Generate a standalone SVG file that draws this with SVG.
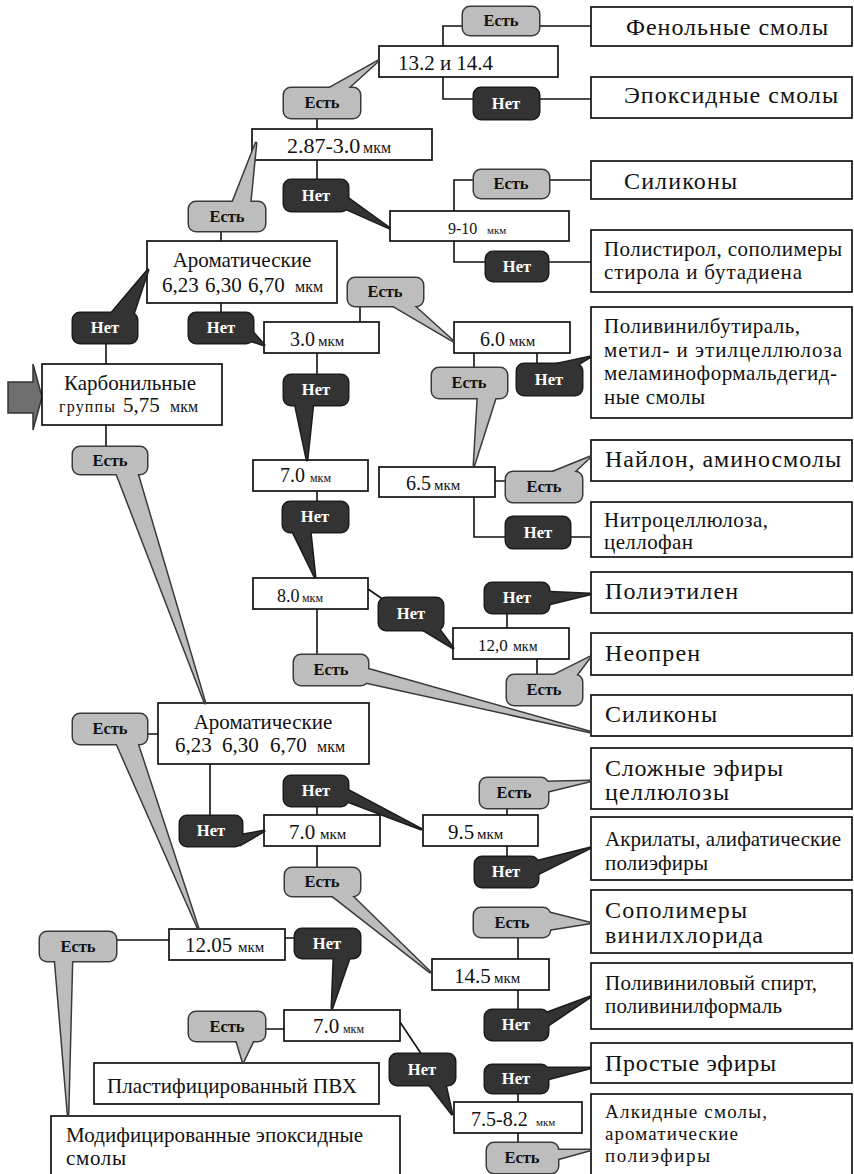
<svg xmlns="http://www.w3.org/2000/svg" width="854" height="1174" viewBox="0 0 854 1174" font-family="'Liberation Serif', 'DejaVu Serif', serif">
<style>
.box{fill:#fff;stroke:#111;stroke-width:1.7}
.ln{fill:none;stroke:#111;stroke-width:1.6}
.o{fill:none;stroke:#3a3a3a;stroke-width:3;stroke-linejoin:round}
.no .o{stroke:#1c1c1c}
.yes .f{fill:#bdbdbd}
.no .f{fill:#333}
text{font-family:'Liberation Serif','DejaVu Serif',serif;fill:#111}
.yes text,.no text{font-weight:bold;font-size:16.5px;text-anchor:middle}
.no text{fill:#fff}
.big{font-size:24px}
.mid{font-size:21px}
.sm{font-size:19px}
.c{text-anchor:middle}
.n22{font-size:22px}.n21{font-size:21px}.n20{font-size:20px}.n18{font-size:18px}.n17{font-size:17px}.n16{font-size:16px}
.u16{font-size:16px}.u15{font-size:15px}.u14{font-size:14px}.u12{font-size:12px}.u11{font-size:11px}
.start{fill:#6e6e6e;stroke:#333;stroke-width:1.5}
</style>
<defs>
<!-- callout outlines: rounded body plus pointer wedge -->
<g id="s-y1"><rect x="463" y="7" width="76" height="28" rx="7"/></g>
<g id="s-n1"><rect x="474" y="88" width="65" height="31" rx="7"/></g>
<g id="s-y2"><rect x="284" y="88" width="76" height="30" rx="7"/><polygon points="326,90 346,90 378,61"/></g>
<g id="s-y3"><rect x="189" y="202" width="76" height="29" rx="7"/><polygon points="232,204 250,204 256,143"/></g>
<g id="s-n2"><rect x="284" y="180" width="64" height="31" rx="7"/><polygon points="342,194 344,208 389,228"/></g>
<g id="s-y4"><rect x="474" y="170" width="75" height="28" rx="7"/></g>
<g id="s-n3"><rect x="486" y="252" width="62" height="29" rx="7"/></g>
<g id="s-y5"><rect x="348" y="278" width="75" height="28" rx="7"/><polygon points="390,304 412,304 453,341"/></g>
<g id="s-n4"><rect x="73" y="313" width="64" height="30" rx="7"/><polygon points="110,315 133,315 148,270"/></g>
<g id="s-n5"><rect x="189" y="313" width="64" height="30" rx="7"/><polygon points="249,328 249,340 264,345"/></g>
<g id="s-n6"><rect x="284" y="375" width="64" height="30" rx="7"/><polygon points="295,403 313,403 307,460"/></g>
<g id="s-y6"><rect x="432" y="368" width="75" height="30" rx="7"/><polygon points="478,396 496,396 474,465"/></g>
<g id="s-n7"><rect x="517" y="364" width="65" height="31" rx="7"/><polygon points="548,366 575,366 590,357"/></g>
<g id="s-y8"><rect x="73" y="447" width="74" height="27" rx="7"/><polygon points="116,472 137,472 205,703"/></g>
<g id="s-y7"><rect x="506" y="472" width="76" height="30" rx="7"/><polygon points="548,474 572,474 590,457"/></g>
<g id="s-n8"><rect x="506" y="517" width="64" height="31" rx="7"/></g>
<g id="s-n9"><rect x="283" y="502" width="65" height="30" rx="7"/><polygon points="292,530 310,530 315,577"/></g>
<g id="s-n10"><rect x="379" y="598" width="64" height="32" rx="7"/><polygon points="420,628 438,628 453,648"/></g>
<g id="s-n11"><rect x="485" y="583" width="64" height="30" rx="7"/><polygon points="545,592 545,605 590,594"/></g>
<g id="s-y9"><rect x="294" y="655" width="74" height="30" rx="7"/><polygon points="364,668 364,682 590,732"/></g>
<g id="s-y10"><rect x="507" y="675" width="75" height="30" rx="7"/><polygon points="550,677 575,677 590,657"/></g>
<g id="s-y11"><rect x="73" y="714" width="74" height="30" rx="7"/><polygon points="116,742 137,742 198,928"/></g>
<g id="s-n13"><rect x="284" y="776" width="64" height="30" rx="7"/><polygon points="344,788 344,800 421,829"/></g>
<g id="s-y12"><rect x="480" y="778" width="68" height="30" rx="7"/><polygon points="545,782 545,792 590,781"/></g>
<g id="s-n12"><rect x="180" y="816" width="62" height="30" rx="7"/><polygon points="236,836 240,845 264,831"/></g>
<g id="s-n14"><rect x="475" y="857" width="63" height="30" rx="7"/><polygon points="534,862 534,876 590,848"/></g>
<g id="s-y13"><rect x="285" y="868" width="75" height="28" rx="7"/><polygon points="330,894 350,894 430,972"/></g>
<g id="s-y14"><rect x="474" y="908" width="76" height="29" rx="7"/><polygon points="546,912 546,930 590,923"/></g>
<g id="s-y15"><rect x="40" y="932" width="76" height="29" rx="7"/><polygon points="55,959 72,959 68,1114"/></g>
<g id="s-n15"><rect x="295" y="929" width="65" height="29" rx="7"/><polygon points="334,956 350,956 332,1008"/></g>
<g id="s-n16"><rect x="485" y="1010" width="63" height="30" rx="7"/><polygon points="544,1014 544,1028 590,997"/></g>
<g id="s-y16"><rect x="189" y="1012" width="76" height="29" rx="7"/><polygon points="236,1039 254,1039 243,1062"/></g>
<g id="s-n17"><rect x="390" y="1054" width="65" height="31" rx="7"/><polygon points="428,1083 445,1083 452,1114"/></g>
<g id="s-n18"><rect x="485" y="1065" width="63" height="28" rx="7"/><polygon points="544,1068 544,1080 590,1068"/></g>
<g id="s-y17"><rect x="487" y="1143" width="71" height="30" rx="7"/><polygon points="554,1150 554,1160 590,1150"/></g>
</defs>

<g id="connectors">
<path class="ln" d="M443,46 V26 H463 M539,26 H591 M443,77 V99 H474 M539,99 H591"/>
<path class="ln" d="M317,118 V129 M317,160 V180 M221,231 V241"/>
<path class="ln" d="M454,211 V180 H474 M549,180 H591 M454,241 V262 H486 M548,262 H591"/>
<path class="ln" d="M221,303 V313 M106,343 V364 M106,425 V447 M360,306 V322 M317,353 V375"/>
<path class="ln" d="M474,353 V368 M537,353 V364 M317,491 V502 M495,481 H506 M474,497 V537 H506 M570,537 H591"/>
<path class="ln" d="M368,589 L384,600 M317,609 V655 M507,613 V628 M537,659 V675"/>
<path class="ln" d="M147,734 H158 M210,764 V816 M317,806 V815 M317,846 V868 M507,808 V815 M507,846 V857"/>
<path class="ln" d="M518,937 V959 M518,990 V1010 M116,940 H169 M285,938 H295 M265,1029 H284 M400,1022 L422,1055 M518,1093 V1102 M518,1133 V1143"/>
</g>

<!-- entry arrow -->
<polygon id="start" class="start" points="8,382 33,382 33,364 42,397 33,430 33,413 8,413"/>

<g id="nodes">
<g id="b-1332"><rect class="box" x="379" y="46" width="179" height="31"/><text x="398" y="70" class="n21" textLength="95">13.2 и 14.4</text></g>
<g id="b-phenol"><rect class="box" x="591" y="7" width="261" height="39"/><text x="626" y="35" class="big" textLength="202">Фенольные смолы</text></g>
<g id="b-epoxy"><rect class="box" x="591" y="77" width="261" height="41"/><text x="624" y="103" class="big" textLength="214">Эпоксидные смолы</text></g>
<g id="b-287"><rect class="box" x="252" y="129" width="180" height="31"/><text x="287" y="153" class="n22">2.87-3.0<tspan x="363" class="u16">мкм</tspan></text></g>
<g id="b-silicone1"><rect class="box" x="591" y="161" width="261" height="38"/><text x="624" y="189" class="big" textLength="113">Силиконы</text></g>
<g id="b-910"><rect class="box" x="390" y="211" width="179" height="30"/><text x="448" y="234" class="n16">9-10<tspan x="487" class="u11">мкм</tspan></text></g>
<g id="b-polystyrene"><rect class="box" x="591" y="230" width="261" height="62"/><text x="604" y="256" class="mid" textLength="238">Полистирол, сополимеры</text><text x="604" y="279" class="mid" textLength="198">стирола и бутадиена</text></g>
<g id="b-arom1"><rect class="box" x="147" y="241" width="190" height="62"/><text x="242" y="267" class="n21 c">Ароматические</text><text y="292" class="n21"><tspan x="162">6,23</tspan><tspan x="205">6,30</tspan><tspan x="248">6,70</tspan><tspan x="295" class="u16">мкм</tspan></text></g>
<g id="b-30"><rect class="box" x="264" y="322" width="115" height="31"/><text x="290" y="346" class="n20">3.0<tspan x="318" class="u15">мкм</tspan></text></g>
<g id="b-60"><rect class="box" x="454" y="322" width="116" height="31"/><text x="480" y="346" class="n20">6.0<tspan x="509" class="u15">мкм</tspan></text></g>
<g id="b-pvb"><rect class="box" x="591" y="307" width="261" height="111"/>
<text x="604" y="333" class="mid" textLength="196">Поливинилбутираль,</text>
<text x="604" y="357" class="mid" textLength="238">метил- и этилцеллюлоза</text>
<text x="604" y="380" class="mid" textLength="233">меламиноформальдегид-</text>
<text x="604" y="404" class="mid" textLength="101">ные смолы</text></g>
<g id="b-carbonyl"><rect class="box" x="42" y="364" width="180" height="61"/><text x="130" y="390" class="n21 c">Карбонильные</text><text y="412"><tspan x="59" class="u16" textLength="56">группы</tspan><tspan x="123" class="n21">5,75</tspan><tspan x="170" class="u16">мкм</tspan></text></g>
<g id="b-70a"><rect class="box" x="253" y="460" width="115" height="31"/><text x="280" y="482" class="n20">7.0<tspan x="310" class="u12">мкм</tspan></text></g>
<g id="b-65"><rect class="box" x="379" y="467" width="116" height="30"/><text x="406" y="490" class="n20">6.5<tspan x="434" class="u15">мкм</tspan></text></g>
<g id="b-nylon"><rect class="box" x="591" y="440" width="261" height="41"/><text x="605" y="467" class="big" textLength="236">Найлон, аминосмолы</text></g>
<g id="b-nitro"><rect class="box" x="591" y="502" width="261" height="55"/><text x="604" y="527" class="mid" textLength="164">Нитроцеллюлоза,</text><text x="604" y="549" class="mid" textLength="89">целлофан</text></g>
<g id="b-80"><rect class="box" x="253" y="578" width="115" height="31"/><text x="277" y="602" class="n18">8.0<tspan x="302" class="u12">мкм</tspan></text></g>
<g id="b-pe"><rect class="box" x="591" y="572" width="261" height="41"/><text x="605" y="599" class="big" textLength="133">Полиэтилен</text></g>
<g id="b-120"><rect class="box" x="453" y="628" width="116" height="31"/><text x="478" y="651" class="n17">12,0<tspan x="513" class="u14">мкм</tspan></text></g>
<g id="b-neoprene"><rect class="box" x="591" y="633" width="261" height="42"/><text x="605" y="661" class="big" textLength="95">Неопрен</text></g>
<g id="b-silicone2"><rect class="box" x="591" y="695" width="261" height="41"/><text x="605" y="722" class="big" textLength="112">Силиконы</text></g>
<g id="b-arom2"><rect class="box" x="158" y="703" width="211" height="61"/><text x="263" y="729" class="n21 c">Ароматические</text><text y="752" class="n21"><tspan x="175">6,23</tspan><tspan x="222">6,30</tspan><tspan x="270">6,70</tspan><tspan x="317" class="u16">мкм</tspan></text></g>
<g id="b-esters"><rect class="box" x="591" y="748" width="261" height="61"/><text x="605" y="776" class="big" textLength="178">Сложные эфиры</text><text x="605" y="800" class="big" textLength="124">целлюлозы</text></g>
<g id="b-70b"><rect class="box" x="264" y="815" width="116" height="31"/><text x="289" y="839" class="n21">7.0<tspan x="320" class="u15">мкм</tspan></text></g>
<g id="b-95"><rect class="box" x="423" y="815" width="115" height="31"/><text x="448" y="839" class="n21">9.5<tspan x="477" class="u15">мкм</tspan></text></g>
<g id="b-acryl"><rect class="box" x="591" y="817" width="261" height="63"/><text x="605" y="846" class="mid" textLength="236">Акрилаты, алифатические</text><text x="605" y="870" class="mid" textLength="103">полиэфиры</text></g>
<g id="b-copoly"><rect class="box" x="591" y="890" width="261" height="63"/><text x="605" y="918" class="big" textLength="142">Сополимеры</text><text x="605" y="943" class="big" textLength="158">винилхлорида</text></g>
<g id="b-1205"><rect class="box" x="169" y="929" width="116" height="31"/><text x="185" y="952" class="n21">12.05<tspan x="238" class="u15">мкм</tspan></text></g>
<g id="b-145"><rect class="box" x="432" y="959" width="117" height="31"/><text x="454" y="983" class="n21">14.5<tspan x="494" class="u15">мкм</tspan></text></g>
<g id="b-pva"><rect class="box" x="591" y="963" width="261" height="66"/><text x="605" y="990" class="mid" textLength="212">Поливиниловый спирт,</text><text x="605" y="1013" class="mid" textLength="177">поливинилформаль</text></g>
<g id="b-70c"><rect class="box" x="284" y="1010" width="116" height="31"/><text x="313" y="1033" class="n21">7.0<tspan x="343" class="u12">мкм</tspan></text></g>
<g id="b-ethers"><rect class="box" x="591" y="1043" width="261" height="40"/><text x="605" y="1071" class="big" textLength="171">Простые эфиры</text></g>
<g id="b-pvc"><rect class="box" x="94" y="1063" width="285" height="41"/><text x="107" y="1093" class="mid" textLength="250">Пластифицированный ПВХ</text></g>
<g id="b-7582"><rect class="box" x="454" y="1102" width="128" height="31"/><text x="471" y="1126" class="n20">7.5-8.2<tspan x="536" class="u11">мкм</tspan></text></g>
<g id="b-alkyd"><rect class="box" x="591" y="1094" width="261" height="95"/><text x="605" y="1118" class="sm" textLength="162">Алкидные смолы,</text><text x="605" y="1140" class="sm" textLength="133">ароматические</text><text x="605" y="1162" class="sm" textLength="105">полиэфиры</text></g>
<g id="b-modepoxy"><rect class="box" x="51" y="1116" width="349" height="75"/><text x="66" y="1142" class="mid" textLength="297">Модифицированные эпоксидные</text><text x="66" y="1165" class="mid" textLength="60">смолы</text></g>
</g>

<g id="callouts">
<g id="c-y1" class="yes"><use href="#s-y1" class="o"/><use href="#s-y1" class="f"/><text x="501" y="26">Есть</text></g>
<g id="c-n1" class="no"><use href="#s-n1" class="o"/><use href="#s-n1" class="f"/><text x="506" y="109">Нет</text></g>
<g id="c-y2" class="yes"><use href="#s-y2" class="o"/><use href="#s-y2" class="f"/><text x="322" y="108">Есть</text></g>
<g id="c-y3" class="yes"><use href="#s-y3" class="o"/><use href="#s-y3" class="f"/><text x="227" y="222">Есть</text></g>
<g id="c-n2" class="no"><use href="#s-n2" class="o"/><use href="#s-n2" class="f"/><text x="316" y="201">Нет</text></g>
<g id="c-y4" class="yes"><use href="#s-y4" class="o"/><use href="#s-y4" class="f"/><text x="511" y="189">Есть</text></g>
<g id="c-n3" class="no"><use href="#s-n3" class="o"/><use href="#s-n3" class="f"/><text x="517" y="272">Нет</text></g>
<g id="c-y5" class="yes"><use href="#s-y5" class="o"/><use href="#s-y5" class="f"/><text x="385" y="297">Есть</text></g>
<g id="c-n4" class="no"><use href="#s-n4" class="o"/><use href="#s-n4" class="f"/><text x="105" y="333">Нет</text></g>
<g id="c-n5" class="no"><use href="#s-n5" class="o"/><use href="#s-n5" class="f"/><text x="221" y="333">Нет</text></g>
<g id="c-n6" class="no"><use href="#s-n6" class="o"/><use href="#s-n6" class="f"/><text x="316" y="395">Нет</text></g>
<g id="c-y6" class="yes"><use href="#s-y6" class="o"/><use href="#s-y6" class="f"/><text x="469" y="388">Есть</text></g>
<g id="c-n7" class="no"><use href="#s-n7" class="o"/><use href="#s-n7" class="f"/><text x="549" y="385">Нет</text></g>
<g id="c-y8" class="yes"><use href="#s-y8" class="o"/><use href="#s-y8" class="f"/><text x="110" y="466">Есть</text></g>
<g id="c-y7" class="yes"><use href="#s-y7" class="o"/><use href="#s-y7" class="f"/><text x="544" y="492">Есть</text></g>
<g id="c-n8" class="no"><use href="#s-n8" class="o"/><use href="#s-n8" class="f"/><text x="538" y="538">Нет</text></g>
<g id="c-n9" class="no"><use href="#s-n9" class="o"/><use href="#s-n9" class="f"/><text x="315" y="522">Нет</text></g>
<g id="c-n10" class="no"><use href="#s-n10" class="o"/><use href="#s-n10" class="f"/><text x="411" y="619">Нет</text></g>
<g id="c-n11" class="no"><use href="#s-n11" class="o"/><use href="#s-n11" class="f"/><text x="517" y="603">Нет</text></g>
<g id="c-y9" class="yes"><use href="#s-y9" class="o"/><use href="#s-y9" class="f"/><text x="331" y="675">Есть</text></g>
<g id="c-y10" class="yes"><use href="#s-y10" class="o"/><use href="#s-y10" class="f"/><text x="544" y="695">Есть</text></g>
<g id="c-y11" class="yes"><use href="#s-y11" class="o"/><use href="#s-y11" class="f"/><text x="110" y="734">Есть</text></g>
<g id="c-n13" class="no"><use href="#s-n13" class="o"/><use href="#s-n13" class="f"/><text x="316" y="796">Нет</text></g>
<g id="c-y12" class="yes"><use href="#s-y12" class="o"/><use href="#s-y12" class="f"/><text x="514" y="798">Есть</text></g>
<g id="c-n12" class="no"><use href="#s-n12" class="o"/><use href="#s-n12" class="f"/><text x="211" y="836">Нет</text></g>
<g id="c-n14" class="no"><use href="#s-n14" class="o"/><use href="#s-n14" class="f"/><text x="506" y="877">Нет</text></g>
<g id="c-y13" class="yes"><use href="#s-y13" class="o"/><use href="#s-y13" class="f"/><text x="322" y="887">Есть</text></g>
<g id="c-y14" class="yes"><use href="#s-y14" class="o"/><use href="#s-y14" class="f"/><text x="512" y="928">Есть</text></g>
<g id="c-y15" class="yes"><use href="#s-y15" class="o"/><use href="#s-y15" class="f"/><text x="78" y="952">Есть</text></g>
<g id="c-n15" class="no"><use href="#s-n15" class="o"/><use href="#s-n15" class="f"/><text x="327" y="949">Нет</text></g>
<g id="c-n16" class="no"><use href="#s-n16" class="o"/><use href="#s-n16" class="f"/><text x="516" y="1030">Нет</text></g>
<g id="c-y16" class="yes"><use href="#s-y16" class="o"/><use href="#s-y16" class="f"/><text x="227" y="1032">Есть</text></g>
<g id="c-n17" class="no"><use href="#s-n17" class="o"/><use href="#s-n17" class="f"/><text x="422" y="1075">Нет</text></g>
<g id="c-n18" class="no"><use href="#s-n18" class="o"/><use href="#s-n18" class="f"/><text x="516" y="1084">Нет</text></g>
<g id="c-y17" class="yes"><use href="#s-y17" class="o"/><use href="#s-y17" class="f"/><text x="522" y="1163">Есть</text></g>
</g>
</svg>
